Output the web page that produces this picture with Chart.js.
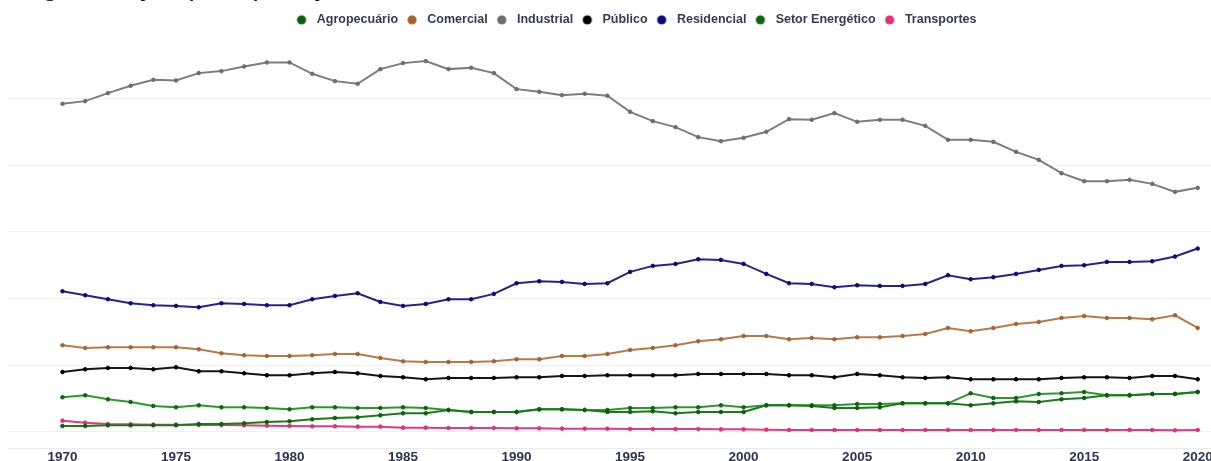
<!DOCTYPE html>
<html lang="pt-BR">
<head>
<meta charset="utf-8">
<title>Segmentação por aplicação</title>
<script src="https://cdn.jsdelivr.net/npm/chart.js@4.4.1/dist/chart.umd.min.js"></script>
<style>
  html, body { margin: 0; padding: 0; background: #fff; overflow: hidden; width: 1211px; height: 461px; }
  #wrap { position: absolute; left: 0; top: -30px; width: 1264px; height: 495px; }
</style>
</head>
<body>
<div id="wrap"><canvas id="chart" width="1264" height="495"></canvas></div>
<script>
// Anos da série histórica
const years = [1970, 1971, 1972, 1973, 1974, 1975, 1976, 1977, 1978, 1979,
               1980, 1981, 1982, 1983, 1984, 1985, 1986, 1987, 1988, 1989,
               1990, 1991, 1992, 1993, 1994, 1995, 1996, 1997, 1998, 1999,
               2000, 2001, 2002, 2003, 2004, 2005, 2006, 2007, 2008, 2009,
               2010, 2011, 2012, 2013, 2014, 2015, 2016, 2017, 2018, 2019, 2020];

// Rótulos do eixo X e linhas de grade do eixo Y (%)
const tickYears = [1970, 1975, 1980, 1985, 1990, 1995, 2000, 2005, 2010, 2015, 2020];
const gridValues = [0, 10, 20, 30, 40, 50];

// Participação de cada setor no consumo (%)
const agropecuario = [0.9, 0.9, 1.0, 1.0, 1.0, 1.0, 1.2, 1.2, 1.3, 1.5,
                      1.6, 1.9, 2.1, 2.2, 2.5, 2.8, 2.8, 3.3, 3.0, 3.0,
                      3.0, 3.4, 3.4, 3.3, 3.0, 3.0, 3.1, 2.8, 3.0, 3.0,
                      3.0, 4.0, 4.0, 3.9, 3.6, 3.6, 3.7, 4.3, 4.3, 4.3,
                      4.0, 4.3, 4.6, 4.5, 4.9, 5.1, 5.5, 5.5, 5.7, 5.7, 6.0];
const comercial = [13.0, 12.6, 12.7, 12.7, 12.7, 12.7, 12.4, 11.8, 11.5, 11.4,
                   11.4, 11.5, 11.7, 11.7, 11.1, 10.6, 10.5, 10.5, 10.5, 10.6,
                   10.9, 10.9, 11.4, 11.4, 11.7, 12.3, 12.6, 13.0, 13.6, 13.9,
                   14.4, 14.4, 13.9, 14.1, 13.9, 14.2, 14.2, 14.4, 14.7, 15.6,
                   15.1, 15.6, 16.2, 16.5, 17.1, 17.4, 17.1, 17.1, 16.9, 17.5, 15.6];
const industrial = [49.2, 49.6, 50.8, 51.9, 52.8, 52.7, 53.8, 54.1, 54.8, 55.4,
                    55.4, 53.7, 52.6, 52.2, 54.4, 55.3, 55.6, 54.4, 54.6, 53.8,
                    51.4, 51.0, 50.5, 50.7, 50.4, 48.0, 46.6, 45.7, 44.2, 43.6,
                    44.1, 45.0, 46.9, 46.8, 47.8, 46.5, 46.8, 46.8, 45.9, 43.8,
                    43.8, 43.5, 42.0, 40.8, 38.8, 37.6, 37.6, 37.8, 37.2, 36.0, 36.6];
const publico = [9.0, 9.4, 9.6, 9.6, 9.4, 9.7, 9.1, 9.1, 8.8, 8.5,
                 8.5, 8.8, 9.0, 8.8, 8.4, 8.2, 7.9, 8.1, 8.1, 8.1,
                 8.2, 8.2, 8.4, 8.4, 8.5, 8.5, 8.5, 8.5, 8.7, 8.7,
                 8.7, 8.7, 8.5, 8.5, 8.2, 8.7, 8.5, 8.2, 8.1, 8.2,
                 7.9, 7.9, 7.9, 7.9, 8.1, 8.2, 8.2, 8.1, 8.4, 8.4, 7.9];
const residencial = [21.1, 20.5, 19.9, 19.3, 19.0, 18.9, 18.7, 19.3, 19.2, 19.0,
                     19.0, 19.9, 20.4, 20.8, 19.5, 18.9, 19.2, 19.9, 19.9, 20.7,
                     22.3, 22.6, 22.5, 22.2, 22.3, 24.0, 24.9, 25.2, 25.9, 25.8,
                     25.2, 23.7, 22.3, 22.2, 21.7, 22.0, 21.9, 21.9, 22.2, 23.5,
                     22.9, 23.2, 23.7, 24.3, 24.9, 25.0, 25.5, 25.5, 25.6, 26.3, 27.5];
const setorEnergetico = [5.2, 5.5, 4.9, 4.5, 3.9, 3.7, 4.0, 3.7, 3.7, 3.6,
                         3.4, 3.7, 3.7, 3.6, 3.6, 3.7, 3.6, 3.3, 3.0, 3.0,
                         3.0, 3.4, 3.4, 3.3, 3.3, 3.6, 3.6, 3.7, 3.7, 4.0,
                         3.7, 4.0, 4.0, 4.0, 4.0, 4.2, 4.2, 4.3, 4.3, 4.3,
                         5.8, 5.1, 5.1, 5.7, 5.8, 6.0, 5.5, 5.5, 5.7, 5.7, 6.0];
const transportes = [1.7, 1.4, 1.2, 1.15, 1.1, 1.1, 1.05, 1.05, 1.0, 0.95,
                     0.9, 0.85, 0.85, 0.8, 0.8, 0.65, 0.65, 0.6, 0.6, 0.6,
                     0.55, 0.55, 0.5, 0.5, 0.5, 0.45, 0.45, 0.45, 0.45, 0.4,
                     0.4, 0.35, 0.3, 0.3, 0.3, 0.3, 0.3, 0.3, 0.3, 0.3,
                     0.3, 0.3, 0.3, 0.3, 0.3, 0.3, 0.3, 0.3, 0.3, 0.25, 0.3];

const sectors = ['Agropecuário', 'Comercial', 'Industrial', 'Público', 'Residencial', 'Setor Energético', 'Transportes'];
const lineColors = ['#1c7a1c', '#b87a48', '#7d7d7d', '#151515', '#24248c', '#2a9a2a', '#e6397f'];
const dotColors  = ['#0b5e0b', '#a8622c', '#6e6e6e', '#000000', '#0c0c7a', '#0d650d', '#e62d76'];
const seriesValues = [agropecuario, comercial, industrial, publico, residencial, setorEnergetico, transportes];

const FONT = "'Liberation Sans', Arial, sans-serif";
const LEGEND_BOX = 15;

// Marcador da legenda: círculo à esquerda de uma caixa transparente
function legendDot(color) {
  const c = document.createElement('canvas');
  c.width = LEGEND_BOX;
  c.height = 12;
  const g = c.getContext('2d');
  g.fillStyle = color;
  g.beginPath();
  g.arc(6, 6, 4.6, 0, Math.PI * 2);
  g.fill();
  return c;
}

const datasets = sectors.map((name, i) => ({
  label: name,
  data: years.map((yr, k) => ({ x: yr, y: seriesValues[i][k] })),
  borderColor: lineColors[i],
  backgroundColor: dotColors[i],
  pointBackgroundColor: dotColors[i],
  pointBorderColor: dotColors[i],
  borderWidth: 2,
  pointRadius: 1.8,
  pointBorderWidth: 1,
  tension: 0,
  fill: false
}));

new Chart(document.getElementById('chart'), {
  type: 'line',
  data: { datasets },
  options: {
    responsive: false,
    animation: false,
    devicePixelRatio: 1,
    layout: { padding: { left: 8, right: 0, top: 0, bottom: 0 } },
    plugins: {
      title: {
        display: true,
        text: 'Segmentação por aplicação',
        align: 'start',
        color: '#111',
        font: { family: FONT, size: 28, weight: 'normal' },
        padding: { top: 0, bottom: 2 }
      },
      legend: {
        position: 'top',
        align: 'center',
        labels: {
          usePointStyle: true,
          pointStyleWidth: LEGEND_BOX,
          boxHeight: 10,
          padding: 8,
          color: '#363a58',
          font: { family: FONT, size: 12.5, weight: 'bold' },
          generateLabels: (chart) => {
            const items = Chart.defaults.plugins.legend.labels.generateLabels(chart);
            return items.map(item => Object.assign(item, { pointStyle: legendDot(dotColors[item.datasetIndex]) }));
          }
        }
      },
      tooltip: { enabled: false }
    },
    scales: {
      x: {
        type: 'linear',
        min: 1967.6,
        max: 2022.7,
        afterBuildTicks: (axis) => { axis.ticks = tickYears.map(v => ({ value: v })); },
        afterFit: (axis) => { axis.height = 17; },
        ticks: {
          autoSkip: false,
          maxRotation: 0,
          padding: 1,
          color: '#2e3550',
          font: { family: FONT, size: 13.5, weight: 'bold' },
          callback: (v) => String(v)
        },
        grid: { display: false, drawTicks: false },
        border: { display: true, color: 'rgba(0,0,0,0.08)' }
      },
      y: {
        min: -2.4,
        max: 59.35,
        afterBuildTicks: (axis) => { axis.ticks = gridValues.map(v => ({ value: v })); },
        ticks: { display: false },
        grid: { color: 'rgba(0,0,0,0.06)', drawTicks: false },
        border: { display: false }
      }
    }
  }
});
</script>
</body>
</html>
